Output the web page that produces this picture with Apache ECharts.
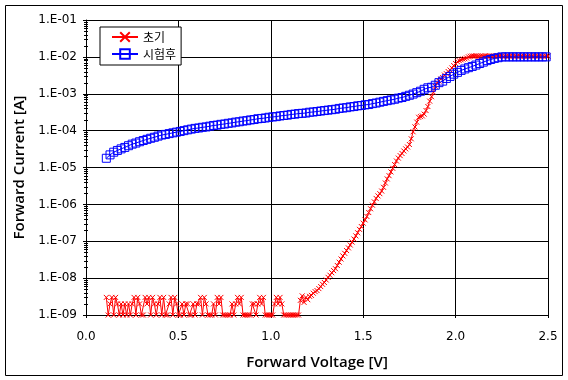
<!DOCTYPE html>
<html><head><meta charset="utf-8">
<script src="https://cdn.jsdelivr.net/npm/echarts@6/dist/echarts.min.js"></script>
<style>html,body{margin:0;padding:0;background:#fff}#c{width:568px;height:380px}</style>
</head><body><div id="c"></div>
<script>
var seriesNames = ['초기', '시험후'];
var xTickLabels = ['0.0', '0.5', '1.0', '1.5', '2.0', '2.5'];
var yTickLabels = ['1.E-09', '1.E-08', '1.E-07', '1.E-06', '1.E-05', '1.E-04', '1.E-03', '1.E-02', '1.E-01'];

var redVoltage = [
0.11,0.12,0.13,0.14,0.15,0.16,0.17,0.18,0.19,0.20,
0.21,0.22,0.23,0.24,0.25,0.26,0.27,0.28,0.29,0.30,
0.31,0.32,0.33,0.34,0.35,0.36,0.37,0.38,0.39,0.40,
0.41,0.42,0.43,0.44,0.45,0.46,0.47,0.48,0.49,0.50,
0.51,0.52,0.53,0.54,0.55,0.56,0.57,0.58,0.59,0.60,
0.61,0.62,0.63,0.64,0.65,0.66,0.67,0.68,0.69,0.70,
0.71,0.72,0.73,0.74,0.75,0.76,0.77,0.78,0.79,0.80,
0.81,0.82,0.83,0.84,0.85,0.86,0.87,0.88,0.89,0.90,
0.91,0.92,0.93,0.94,0.95,0.96,0.97,0.98,0.99,1.00,
1.01,1.02,1.03,1.04,1.05,1.06,1.07,1.08,1.09,1.10,
1.11,1.12,1.13,1.14,1.15,1.16,1.17,1.18,1.19,1.20,
1.21,1.22,1.23,1.24,1.25,1.26,1.27,1.28,1.29,1.30,
1.31,1.32,1.33,1.34,1.35,1.36,1.37,1.38,1.39,1.40,
1.41,1.42,1.43,1.44,1.45,1.46,1.47,1.48,1.49,1.50,
1.51,1.52,1.53,1.54,1.55,1.56,1.57,1.58,1.59,1.60,
1.61,1.62,1.63,1.64,1.65,1.66,1.67,1.68,1.69,1.70,
1.71,1.72,1.73,1.74,1.75,1.76,1.77,1.78,1.79,1.80,
1.81,1.82,1.83,1.84,1.85,1.86,1.87,1.88,1.89,1.90,
1.91,1.92,1.93,1.94,1.95,1.96,1.97,1.98,1.99,2.00,
2.01,2.02,2.03,2.04,2.05,2.06,2.07,2.08,2.09,2.10,
2.11,2.12,2.13,2.14,2.15,2.16,2.17,2.18,2.19,2.20,
2.21,2.22,2.23,2.24,2.25,2.26,2.27,2.28,2.29,2.30,
2.31,2.32,2.33,2.34,2.35,2.36,2.37,2.38,2.39,2.40,
2.41,2.42,2.43,2.44,2.45,2.46,2.47,2.48,2.49,2.50];

var redCurrent = [
3e-9,1e-9,2e-9,3e-9,1e-9,3e-9,2e-9,1e-9,2e-9,1e-9,
2e-9,1e-9,2e-9,1e-9,2e-9,3e-9,1e-9,3e-9,2e-9,1e-9,
1e-9,3e-9,2e-9,3e-9,1e-9,3e-9,2e-9,1e-9,2e-9,3e-9,
1e-9,3e-9,1e-9,1e-9,2e-9,3e-9,1e-9,3e-9,2e-9,1e-9,
1e-9,2e-9,1e-9,2e-9,2e-9,1e-9,1e-9,2e-9,1e-9,2e-9,
2e-9,3e-9,1e-9,3e-9,2e-9,1e-9,1e-9,1e-9,2e-9,1e-9,
3e-9,2e-9,3e-9,1e-9,1e-9,1e-9,1e-9,1e-9,2e-9,1e-9,
2e-9,3e-9,2e-9,3e-9,1e-9,1e-9,1e-9,1e-9,1e-9,2e-9,
2e-9,1e-9,2e-9,3e-9,2e-9,3e-9,1e-9,1e-9,1e-9,1e-9,
1e-9,2e-9,3e-9,2e-9,3e-9,2e-9,1e-9,1e-9,1e-9,1e-9,
1e-9,1e-9,1e-9,1e-9,1e-9,2.5e-9,3.3e-9,2.2e-9,3.0e-9,2.6e-9,
3.2e-9,3.4e-9,3.9e-9,4.3e-9,4.6e-9,5.2e-9,5.9e-9,6.8e-9,7.6e-9,8.9e-9,
1.05e-8,1.2e-8,1.4e-8,1.6e-8,1.8e-8,2.2e-8,2.7e-8,3.3e-8,4.0e-8,4.7e-8,
5.6e-8,6.6e-8,7.9e-8,9.5e-8,1.15e-7,1.4e-7,1.7e-7,2.1e-7,2.5e-7,3.1e-7,
3.8e-7,4.7e-7,6.0e-7,7.6e-7,9.5e-7,1.17e-6,1.45e-6,1.7e-6,1.95e-6,2.3e-6,
2.9e-6,3.8e-6,4.9e-6,6.0e-6,7.6e-6,9.5e-6,1.2e-5,1.5e-5,1.8e-5,2.1e-5,
2.4e-5,2.8e-5,3.2e-5,3.6e-5,4.2e-5,6.0e-5,9.3e-5,1.26e-4,1.7e-4,2.3e-4,
2.4e-4,2.5e-4,2.8e-4,3.5e-4,4.5e-4,6.3e-4,8.3e-4,1.1e-3,1.6e-3,2.0e-3,
2.2e-3,2.5e-3,2.75e-3,3.2e-3,3.5e-3,4.0e-3,4.4e-3,5.0e-3,5.8e-3,6.6e-3,
7.4e-3,7.9e-3,8.3e-3,8.7e-3,8.9e-3,9.3e-3,1.0e-2,1.04e-2,1.06e-2,1.05e-2,
1.07e-2,1.05e-2,1.04e-2,1.06e-2,1.05e-2,1.07e-2,1.04e-2,1.05e-2,1.06e-2,1.05e-2,
1.04e-2,1.06e-2,1.05e-2,1.05e-2,1.07e-2,1.04e-2,1.05e-2,1.06e-2,1.05e-2,1.04e-2,
1.06e-2,1.05e-2,1.05e-2,1.07e-2,1.04e-2,1.05e-2,1.06e-2,1.05e-2,1.04e-2,1.06e-2,
1.05e-2,1.05e-2,1.07e-2,1.04e-2,1.05e-2,1.06e-2,1.05e-2,1.04e-2,1.06e-2,1.05e-2];

var blueVoltage = [
0.11,0.13,0.15,0.17,0.19,0.21,0.23,0.25,0.27,0.29,
0.31,0.33,0.35,0.37,0.39,0.41,0.43,0.45,0.47,0.49,
0.51,0.53,0.55,0.57,0.59,0.61,0.63,0.65,0.67,0.69,
0.71,0.73,0.75,0.77,0.79,0.81,0.83,0.85,0.87,0.89,
0.91,0.93,0.95,0.97,0.99,1.01,1.03,1.05,1.07,1.09,
1.11,1.13,1.15,1.17,1.19,1.21,1.23,1.25,1.27,1.29,
1.31,1.33,1.35,1.37,1.39,1.41,1.43,1.45,1.47,1.49,
1.51,1.53,1.55,1.57,1.59,1.61,1.63,1.65,1.67,1.69,
1.71,1.73,1.75,1.77,1.79,1.81,1.83,1.85,1.87,1.89,
1.91,1.93,1.95,1.97,1.99,2.01,2.03,2.05,2.07,2.09,
2.11,2.13,2.15,2.17,2.19,2.21,2.23,2.25,2.27,2.29,
2.31,2.33,2.35,2.37,2.39,2.41,2.43,2.45,2.47,2.49];

var blueCurrent = [
1.78e-5,2.2e-5,2.6e-5,2.9e-5,3.2e-5,3.5e-5,3.9e-5,4.3e-5,4.6e-5,5.0e-5,
5.4e-5,5.8e-5,6.2e-5,6.6e-5,7.1e-5,7.6e-5,7.9e-5,8.3e-5,8.7e-5,9.1e-5,
9.5e-5,1.0e-4,1.05e-4,1.1e-4,1.15e-4,1.18e-4,1.23e-4,1.26e-4,1.32e-4,1.38e-4,
1.41e-4,1.48e-4,1.51e-4,1.58e-4,1.62e-4,1.7e-4,1.74e-4,1.82e-4,1.86e-4,1.95e-4,
2.0e-4,2.1e-4,2.14e-4,2.2e-4,2.3e-4,2.35e-4,2.4e-4,2.5e-4,2.57e-4,2.63e-4,
2.75e-4,2.8e-4,2.9e-4,2.95e-4,3.0e-4,3.15e-4,3.2e-4,3.3e-4,3.4e-4,3.5e-4,
3.6e-4,3.7e-4,3.8e-4,4.0e-4,4.1e-4,4.2e-4,4.4e-4,4.5e-4,4.7e-4,4.8e-4,
5.0e-4,5.1e-4,5.4e-4,5.6e-4,5.9e-4,6.2e-4,6.5e-4,6.8e-4,7.1e-4,7.6e-4,
7.9e-4,8.5e-4,9.1e-4,9.8e-4,1.07e-3,1.17e-3,1.32e-3,1.45e-3,1.5e-3,1.7e-3,
2.0e-3,2.2e-3,2.6e-3,2.95e-3,3.4e-3,3.8e-3,4.3e-3,4.7e-3,5.1e-3,5.5e-3,
6.0e-3,6.6e-3,7.2e-3,7.9e-3,8.5e-3,9.1e-3,9.5e-3,1.0e-2,1.0e-2,1.0e-2,
1.0e-2,1.0e-2,1.0e-2,1.0e-2,1.0e-2,1.0e-2,1.0e-2,1.0e-2,1.0e-2,1.0e-2];

var minorTickMultipliers = [2, 3, 4, 5, 6, 7, 8, 9];

function pairs(xs, ys) { return xs.map(function (x, i) { return [x, ys[i]]; }); }
var minorTicks = [];
for (var e = -9; e < -1; e++) {
  minorTickMultipliers.forEach(function (m) { minorTicks.push([0, m * Math.pow(10, e)]); });
}

var labelFont = 'DejaVu Sans';
var titleStyle = { fontFamily: 'Open Sans', fontSize: 15, fontWeight: 600, color: '#000' };
var chart = echarts.init(document.getElementById('c'), null, { renderer: 'canvas' });
chart.setOption({
  backgroundColor: '#fff',
  animation: false,
  graphic: [{ type: 'rect', shape: { x: 5.5, y: 5.5, width: 557, height: 370 },
    style: { fill: 'none', stroke: '#000', lineWidth: 1 }, silent: true }],
  grid: { left: 86, right: 20, top: 20, bottom: 65 },
  legend: {
    data: seriesNames, orient: 'vertical', left: 100, top: 27,
    backgroundColor: '#fff', borderColor: '#000', borderWidth: 1, borderRadius: 0,
    padding: [4, 5, 5, 11], itemWidth: 26, itemHeight: 12, itemGap: 5,
    textStyle: { fontFamily: 'Noto Sans CJK KR', fontSize: 12, color: '#000' }
  },
  xAxis: {
    type: 'value', min: 0, max: 2.5, interval: 0.5,
    name: 'Forward Voltage [V]', nameLocation: 'middle', nameGap: 40,
    nameTextStyle: titleStyle,
    axisLine: { lineStyle: { color: '#000', width: 1 } },
    axisTick: { show: true, length: 3, lineStyle: { color: '#000' } },
    axisLabel: { margin: 16, fontFamily: labelFont, fontSize: 12, color: '#000',
      formatter: function (v) { return xTickLabels[Math.round(v / 0.5)]; } },
    splitLine: { show: true, lineStyle: { color: '#000', width: 1 } }
  },
  yAxis: {
    type: 'log', logBase: 10, min: 1e-9, max: 1e-1, splitNumber: 8,
    name: 'Forward Current [A]', nameLocation: 'middle', nameGap: 57,
    nameTextStyle: titleStyle,
    axisLine: { show: true, lineStyle: { color: '#000', width: 1 } },
    axisTick: { show: true, length: 3, lineStyle: { color: '#000' } },
    axisLabel: { margin: 9, fontFamily: labelFont, fontSize: 12, color: '#000',
      formatter: function (v) { return yTickLabels[Math.round(Math.log10(v)) + 9]; } },
    splitLine: { show: true, lineStyle: { color: '#000', width: 1 } }
  },
  series: [
    {
      name: seriesNames[0], type: 'line', data: pairs(redVoltage, redCurrent),
      clip: false, z: 3,
      symbol: 'path://M0,0L10,10M10,0L0,10', symbolSize: 5, symbolKeepAspect: true,
      showAllSymbol: true,
      itemStyle: { color: '#ff0000', borderColor: '#ff0000', borderWidth: 1 },
      lineStyle: { color: '#ff0000', width: 1 }
    },
    {
      name: seriesNames[1], type: 'line', data: pairs(blueVoltage, blueCurrent),
      clip: false, z: 4,
      symbol: 'rect', symbolSize: 8, showAllSymbol: true,
      itemStyle: { color: 'rgba(0,0,0,0)', borderColor: '#0000ff', borderWidth: 1 },
      lineStyle: { color: '#0000ff', width: 1 }
    },
    {
      name: 'minorTicks', type: 'custom', data: minorTicks, silent: true, clip: false, z: 5,
      encode: { x: 0, y: 1 },
      renderItem: function (params, api) {
        var p = api.coord([0, api.value(1)]);
        var y = Math.round(p[1]) + 0.5;
        return { type: 'line', shape: { x1: p[0] - 2, y1: y, x2: p[0] + 2, y2: y },
          style: { stroke: '#000', lineWidth: 1 } };
      }
    }
  ]
});
</script></body></html>
